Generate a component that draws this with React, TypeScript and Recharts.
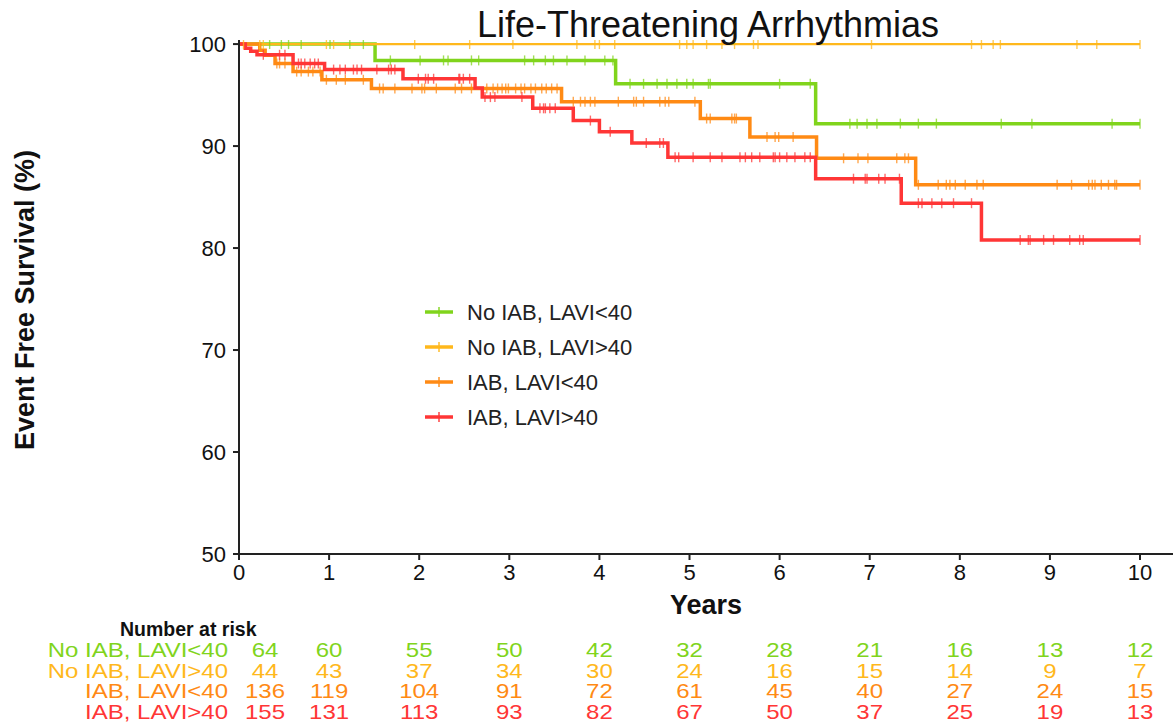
import React from "react";
import { ComposedChart, Line, Scatter, XAxis, YAxis } from "recharts";

const groups = ["No IAB, LAVI<40", "No IAB, LAVI>40", "IAB, LAVI<40", "IAB, LAVI>40"];
const colors = ["#80D41C", "#FFB81C", "#FF8A14", "#FF3636"];

// KM step times (years) and survival (%)
const greenTimes = [0, 1.51, 4.18, 6.4, 10];
const greenSurv = [100, 98.4, 96.1, 92.2, 92.2];
const yellowTimes = [0, 10];
const yellowSurv = [100, 100];
const orangeTimes = [0, 0.23, 0.29, 0.4, 0.6, 0.92, 1.47, 3.58, 5.12, 5.67, 6.41, 7.51, 10];
const orangeSurv = [100, 99.4, 98.9, 98.1, 97.3, 96.5, 95.65, 94.35, 92.7, 90.9, 88.8, 86.2, 86.2];
const redTimes = [0, 0.07, 0.13, 0.2, 0.6, 0.95, 1.82, 2.62, 2.7, 3.26, 3.71, 4.0, 4.36, 4.76, 6.4, 7.35, 8.24, 10];
const redSurv = [100, 99.6, 99.3, 98.95, 98.1, 97.5, 96.6, 95.7, 94.8, 93.7, 92.5, 91.4, 90.3, 88.9, 86.8, 84.4, 80.8, 80.8];

// censoring times
const greenCensor = [0.34, 0.47, 0.55, 0.69, 1.01, 1.23, 1.38, 1.68, 2.01, 2.27, 2.32, 2.58, 2.66, 3.17, 3.27, 3.4, 3.49, 3.64, 3.84, 4.06, 4.15, 4.34, 4.49, 4.64, 4.75, 4.86, 4.97, 5.04, 5.21, 5.23, 6.0, 6.34, 6.78, 6.86, 6.97, 7.08, 7.34, 7.54, 7.74, 8.46, 8.8, 9.69, 10];
const yellowCensor = [0.05, 0.23, 0.27, 0.97, 1.05, 1.95, 2.56, 3.04, 3.75, 3.95, 4.0, 4.17, 4.89, 4.97, 5.04, 5.19, 5.36, 5.5, 5.71, 5.76, 7.02, 8.13, 8.24, 8.37, 8.45, 9.3, 9.52, 10];
const orangeCensor = [0.42, 0.45, 0.51, 0.64, 0.69, 0.77, 0.82, 0.9, 0.97, 1.08, 1.18, 1.38, 1.56, 1.6, 1.73, 1.92, 2.03, 2.06, 2.19, 2.4, 2.47, 2.58, 2.75, 2.82, 2.87, 2.92, 2.96, 2.99, 3.07, 3.13, 3.17, 3.24, 3.29, 3.36, 3.41, 3.47, 3.53, 3.71, 3.79, 3.84, 3.9, 3.95, 4.21, 4.38, 4.41, 4.49, 4.67, 4.73, 4.77, 5.06, 5.19, 5.23, 5.47, 5.5, 5.52, 5.86, 5.95, 5.99, 6.15, 6.71, 6.87, 6.98, 7.3, 7.39, 7.43, 7.54, 7.76, 7.85, 7.89, 7.95, 8.06, 8.19, 8.26, 9.08, 9.24, 9.43, 9.47, 9.5, 9.57, 9.65, 9.72, 9.74, 10];
const redCensor = [0.27, 0.45, 0.51, 0.66, 0.69, 0.73, 0.79, 0.84, 0.88, 1.05, 1.12, 1.18, 1.27, 1.31, 1.36, 1.53, 1.66, 1.69, 1.73, 1.99, 2.07, 2.1, 2.16, 2.44, 2.45, 2.49, 2.56, 2.73, 2.79, 2.84, 3.14, 3.34, 3.38, 3.4, 3.45, 3.51, 3.9, 4.12, 4.52, 4.67, 4.71, 4.84, 4.88, 5.04, 5.23, 5.36, 5.56, 5.62, 5.69, 5.78, 5.93, 5.95, 6.0, 6.08, 6.17, 6.28, 6.34, 6.82, 6.95, 6.97, 7.1, 7.17, 7.33, 7.54, 7.58, 7.69, 7.8, 7.93, 8.13, 8.67, 8.76, 8.78, 8.93, 9.04, 9.22, 9.33, 9.37, 10];

// number at risk
const riskTimes = [0, 1, 2, 3, 4, 5, 6, 7, 8, 9, 10];
const riskGreen = [64, 60, 55, 50, 42, 32, 28, 21, 16, 13, 12];
const riskYellow = [44, 43, 37, 34, 30, 24, 16, 15, 14, 9, 7];
const riskOrange = [136, 119, 104, 91, 72, 61, 45, 40, 27, 24, 15];
const riskRed = [155, 131, 113, 93, 82, 67, 50, 37, 25, 19, 13];

const xTicks = [0, 1, 2, 3, 4, 5, 6, 7, 8, 9, 10];
const yTicks = [50, 60, 70, 80, 90, 100];

const FONT = "'Liberation Sans', Arial, sans-serif";
const X_MAX = 10.366;
const RISK_FONT = 20;
const RISK_STRETCH = 1.2;

const series = [
  { times: greenTimes, surv: greenSurv, censor: greenCensor, risk: riskGreen },
  { times: yellowTimes, surv: yellowSurv, censor: yellowCensor, risk: riskYellow },
  { times: orangeTimes, surv: orangeSurv, censor: orangeCensor, risk: riskOrange },
  { times: redTimes, surv: redSurv, censor: redCensor, risk: riskRed },
];

// survival value of a step curve at time t (last step at or before t)
function survAt(times: number[], surv: number[], t: number) {
  let v = surv[0];
  for (let i = 0; i < times.length; i++) if (times[i] <= t) v = surv[i];
  return v;
}

const CensorMark = (color: string) => (props: any) => {
  const { cx, cy } = props;
  if (cx == null || cy == null) return <g />;
  return <line x1={cx} x2={cx} y1={cy - 5} y2={cy + 5} stroke={color} strokeWidth={1.4} strokeOpacity={0.75} />;
};

const RiskText = (color: string) => (props: any) => {
  const { cx, cy, payload } = props;
  if (cx == null || cy == null) return <g />;
  const dx = payload.t === 0 ? 26 : 0;
  return (
    <text
      transform={`translate(${cx + dx},${cy}) scale(${RISK_STRETCH},1)`}
      textAnchor="middle"
      dominantBaseline="central"
      fill={color}
      fontSize={RISK_FONT}
      fontFamily={FONT}
    >
      {payload.n}
    </text>
  );
};

const RiskLabel = (props: any) => {
  const { y, payload } = props;
  const i = payload.value;
  return (
    <text
      transform={`translate(228,${y}) scale(${RISK_STRETCH},1)`}
      textAnchor="end"
      dominantBaseline="central"
      fill={colors[i]}
      fontSize={RISK_FONT}
      fontFamily={FONT}
    >
      {groups[i]}
    </text>
  );
};

export default function App() {
  const tickStyle = { fontSize: 22, fill: "#111", fontFamily: FONT };
  return (
    <div style={{ position: "absolute", left: 0, top: 0, width: 1173, height: 726, background: "#fff", fontFamily: FONT }}>
      <ComposedChart width={1173} height={620} margin={{ top: 40, right: 0, bottom: 0, left: 0 }}>
        <XAxis
          type="number"
          dataKey="t"
          domain={[0, X_MAX]}
          ticks={xTicks}
          interval={0}
          allowDataOverflow
          height={66}
          tick={tickStyle}
          tickSize={6}
          tickMargin={4}
          axisLine={{ stroke: "#222", strokeWidth: 2 }}
          tickLine={{ stroke: "#222", strokeWidth: 2 }}
        />
        <YAxis
          type="number"
          dataKey="s"
          domain={[50, 100.4]}
          ticks={yTicks}
          interval={0}
          allowDataOverflow
          width={239}
          tick={tickStyle}
          tickSize={6}
          tickMargin={7}
          axisLine={{ stroke: "#222", strokeWidth: 2 }}
          tickLine={{ stroke: "#222", strokeWidth: 2 }}
        />
        {series.map((s, i) => (
          <Line
            key={"l" + i}
            data={s.times.map((t, j) => ({ t, s: s.surv[j] }))}
            dataKey="s"
            type="stepAfter"
            stroke={colors[i]}
            strokeWidth={i === 1 ? 2.4 : 3.5}
            dot={false}
            activeDot={false}
            isAnimationActive={false}
          />
        ))}
        {series.map((s, i) => (
          <Scatter
            key={"c" + i}
            data={s.censor.map((t) => ({ t, s: survAt(s.times, s.surv, t) }))}
            dataKey="s"
            shape={CensorMark(colors[i])}
            isAnimationActive={false}
          />
        ))}
      </ComposedChart>

      <div style={{ position: "absolute", top: 620, left: 0 }}>
        <ComposedChart width={1173} height={106} margin={{ top: 20, right: 0, bottom: 4, left: 0 }}>
          <XAxis type="number" dataKey="t" domain={[0, X_MAX]} hide />
          <YAxis
            type="number"
            dataKey="row"
            domain={[-0.5, 3.5]}
            ticks={[0, 1, 2, 3]}
            interval={0}
            reversed
            width={239}
            axisLine={false}
            tickLine={false}
            tick={RiskLabel}
          />
          {series.map((s, i) => (
            <Scatter
              key={"r" + i}
              data={riskTimes.map((t, j) => ({ t, row: i, n: s.risk[j] }))}
              dataKey="row"
              shape={RiskText(colors[i])}
              isAnimationActive={false}
            />
          ))}
        </ComposedChart>
      </div>

      <svg width={1173} height={726} style={{ position: "absolute", left: 0, top: 0, pointerEvents: "none" }}>
        <text x={708} y={37} textAnchor="middle" fontSize={36} fill="#111" fontFamily={FONT}>
          Life-Threatening Arrhythmias
        </text>
        <text x={706} y={614} textAnchor="middle" fontSize={27} fontWeight="bold" fill="#111" fontFamily={FONT}>
          Years
        </text>
        <text
          x={34}
          y={300}
          textAnchor="middle"
          fontSize={27}
          fontWeight="bold"
          fill="#111"
          fontFamily={FONT}
          transform="rotate(-90 34 300)"
        >
          Event Free Survival (%)
        </text>
        <text x={120} y={636} fontSize={19.5} fontWeight="bold" fill="#111" fontFamily={FONT}>
          Number at risk
        </text>
        {groups.map((g, i) => {
          const y = 312 + i * 35;
          return (
            <g key={g}>
              <line x1={425} x2={453} y1={y} y2={y} stroke={colors[i]} strokeWidth={3.5} />
              <line x1={439} x2={439} y1={y - 5} y2={y + 5} stroke={colors[i]} strokeWidth={1.4} />
              <text x={467} y={y} dominantBaseline="central" fontSize={22} fill="#222" fontFamily={FONT}>
                {g}
              </text>
            </g>
          );
        })}
      </svg>
    </div>
  );
}
